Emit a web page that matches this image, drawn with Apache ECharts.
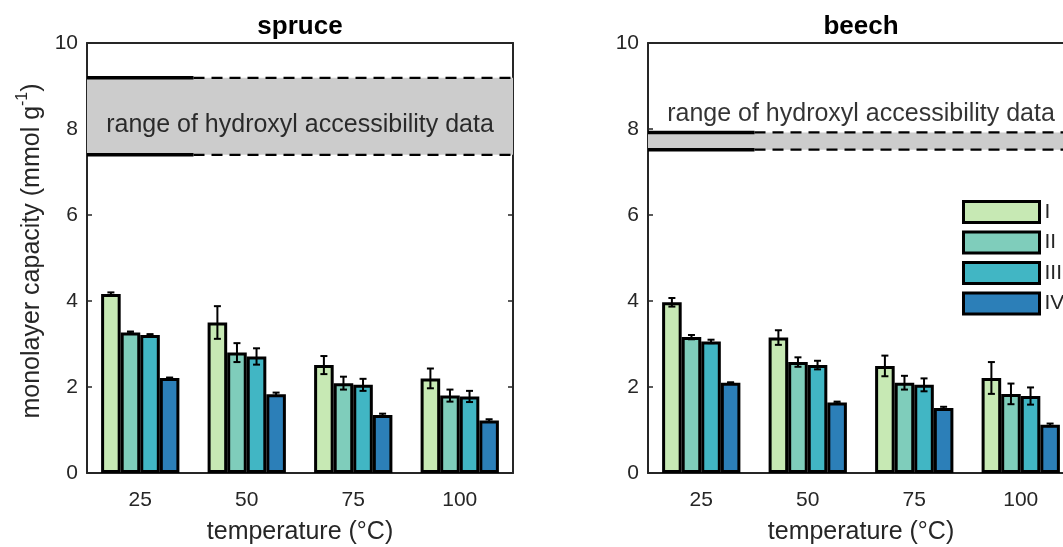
<!DOCTYPE html>
<html>
<head>
<meta charset="utf-8">
<title>Monolayer capacity – spruce and beech</title>
<script src="https://cdn.jsdelivr.net/npm/echarts@6/dist/echarts.min.js"></script>
<style>
  html, body { margin: 0; padding: 0; background: #fff; }
  #chart { width: 1063px; height: 547px; }
</style>
</head>
<body>
<div id="chart"></div>
<script>
// ---- data ----
const categories = ['25', '50', '75', '100'];
const fractions = ['I', 'II', 'III', 'IV'];
const yTicks = [0, 2, 4, 6, 8, 10];

const spruceI   = [4.16, 3.50, 2.51, 2.20];
const spruceII  = [3.27, 2.80, 2.09, 1.80];
const spruceIII = [3.21, 2.71, 2.05, 1.78];
const spruceIV  = [2.21, 1.83, 1.35, 1.22];
const spruceErrI   = [0.04, 0.38, 0.21, 0.23];
const spruceErrII  = [0.02, 0.22, 0.15, 0.14];
const spruceErrIII = [0.02, 0.19, 0.14, 0.13];
const spruceErrIV  = [0.01, 0.04, 0.03, 0.03];

const beechI   = [3.97, 3.15, 2.49, 2.21];
const beechII  = [3.16, 2.58, 2.10, 1.84];
const beechIII = [3.06, 2.51, 2.05, 1.79];
const beechIV  = [2.10, 1.64, 1.51, 1.12];
const beechErrI   = [0.10, 0.17, 0.24, 0.37];
const beechErrII  = [0.05, 0.11, 0.16, 0.24];
const beechErrIII = [0.04, 0.10, 0.15, 0.20];
const beechErrIV  = [0.01, 0.02, 0.03, 0.03];

// hydroxyl accessibility range [low, high] per wood species
const spruceRange = [7.40, 9.19];
const beechRange  = [7.52, 7.92];
const rangeText = 'range of hydroxyl accessibility data';

// ---- styling ----
const FONT = 'Liberation Sans';
const AXIS = '#262626';
const barColors = ['#c7e9b4', '#7fcdbb', '#41b6c4', '#2c7fb8'];
const CAT_GAP = 0.265;

const panels = [
  { title: 'spruce', means: [spruceI, spruceII, spruceIII, spruceIV],
    errs: [spruceErrI, spruceErrII, spruceErrIII, spruceErrIV], range: spruceRange,
    textY: 8.08, grid: { left: 87, top: 43, width: 426, height: 430 }, yName: true },
  { title: 'beech', means: [beechI, beechII, beechIII, beechIV],
    errs: [beechErrI, beechErrII, beechErrIII, beechErrIV], range: beechRange,
    textY: 8.34, grid: { left: 648, top: 43, width: 426, height: 430 }, yName: false }
];

function errorBarRenderer(params, api) {
  const cat = api.value(0), mean = api.value(1), err = api.value(2), k = api.value(3);
  const center = api.coord([cat, mean]);
  const band = api.size([1, 0])[0];
  const barW = band * (1 - CAT_GAP) / fractions.length;
  const x = center[0] + (k - (fractions.length - 1) / 2) * barW;
  const yTop = api.coord([cat, mean + err])[1];
  const yBot = api.coord([cat, mean - err])[1];
  const cap = 3.5;
  const st = { stroke: '#000', lineWidth: 2 };
  return {
    type: 'group',
    children: [
      { type: 'line', shape: { x1: x, y1: yTop, x2: x, y2: yBot }, style: st },
      { type: 'line', shape: { x1: x - cap, y1: yTop, x2: x + cap, y2: yTop }, style: st },
      { type: 'line', shape: { x1: x - cap, y1: yBot, x2: x + cap, y2: yBot }, style: st }
    ]
  };
}

const grid = [], xAxis = [], yAxis = [], series = [], title = [];

panels.forEach((p, pi) => {
  grid.push(Object.assign({ containLabel: false, outerBoundsMode: 'none' }, p.grid));
  const cx = p.grid.left + p.grid.width / 2;
  title.push({
    text: p.title, left: cx, top: 14, textAlign: 'center', padding: 0,
    textStyle: { fontFamily: FONT, fontSize: 26, fontWeight: 'bold', color: '#000' }
  });

  const xb = pi * 3, yl = pi * 2;
  // bottom category axis
  xAxis.push({
    type: 'category', gridIndex: pi, data: categories, position: 'bottom',
    boundaryGap: true,
    axisLine: { onZero: false, lineStyle: { color: AXIS, width: 2 } },
    axisTick: { inside: true, alignWithLabel: true, length: 5, lineStyle: { color: AXIS, width: 1.5 } },
    axisLabel: { margin: 17, fontFamily: FONT, fontSize: 21, color: AXIS },
    name: 'temperature (°C)', nameLocation: 'middle', nameGap: 47,
    nameTextStyle: { fontFamily: FONT, fontSize: 25, color: AXIS }
  });
  // top category axis (box frame)
  xAxis.push({
    type: 'category', gridIndex: pi, data: categories, position: 'top',
    boundaryGap: true,
    axisLine: { onZero: false, lineStyle: { color: AXIS, width: 2 } },
    axisTick: { inside: true, alignWithLabel: true, length: 5, lineStyle: { color: AXIS, width: 1.5 } },
    axisLabel: { show: false }
  });
  // hidden continuous axis spanning the four category bands
  xAxis.push({ type: 'value', gridIndex: pi, min: 0, max: categories.length, show: false });

  const yCommon = {
    type: 'value', gridIndex: pi, min: yTicks[0], max: yTicks[yTicks.length - 1],
    interval: yTicks[1] - yTicks[0],
    splitLine: { show: false },
    axisLine: { show: true, lineStyle: { color: AXIS, width: 2 } },
    axisTick: { show: true, inside: true, length: 5, lineStyle: { color: AXIS, width: 1.5 } }
  };
  yAxis.push(Object.assign({}, yCommon, {
    position: 'left',
    axisLabel: { margin: 9, fontFamily: FONT, fontSize: 21, color: AXIS },
    name: p.yName ? '{a|monolayer capacity (mmol g}{s|-1}{a|)}' : '',
    nameLocation: 'middle', nameGap: 42,
    nameTextStyle: {
      padding: [0, 0, 0, 14],
      rich: {
        a: { fontFamily: FONT, fontSize: 25, color: AXIS, lineHeight: 30, verticalAlign: 'bottom' },
        s: { fontFamily: FONT, fontSize: 16, color: AXIS, lineHeight: 30, verticalAlign: 'top' }
      }
    }
  }));
  yAxis.push(Object.assign({}, yCommon, { position: 'right', axisLabel: { show: false } }));

  // shaded range band
  const [lo, hi] = p.range;
  series.push({
    type: 'line', xAxisIndex: xb + 2, yAxisIndex: yl, z: 1, silent: true,
    symbol: 'none', data: [], lineStyle: { width: 0 },
    markArea: {
      silent: true,
      itemStyle: { color: '#cccccc' },
      data: [[{ coord: [0, lo] }, { coord: [categories.length, hi] }]]
    }
  });
  [hi, lo].forEach(v => {
    series.push({
      type: 'line', xAxisIndex: xb + 2, yAxisIndex: yl, z: 5, silent: true, symbol: 'none',
      data: [[0, v], [1, v]], lineStyle: { color: '#000', width: 3.5, type: 'solid' }
    });
    series.push({
      type: 'line', xAxisIndex: xb + 2, yAxisIndex: yl, z: 5, silent: true, symbol: 'none',
      data: [[1, v], [categories.length, v]],
      lineStyle: { color: '#000', width: 2.2, type: [11, 7] }
    });
  });
  // range caption
  series.push({
    type: 'scatter', xAxisIndex: xb + 2, yAxisIndex: yl, z: 6, silent: true,
    symbolSize: 1, itemStyle: { color: 'rgba(0,0,0,0)' },
    data: [[categories.length / 2, p.textY]],
    label: {
      show: true, position: 'inside', formatter: rangeText,
      fontFamily: FONT, fontSize: 25, color: '#000'
    }
  });

  // bars
  fractions.forEach((name, k) => {
    series.push({
      type: 'bar', name: name, xAxisIndex: xb, yAxisIndex: yl, z: 3,
      data: p.means[k],
      barGap: '0%', barCategoryGap: (CAT_GAP * 100) + '%',
      itemStyle: { color: barColors[k], borderColor: '#000', borderWidth: 3 }
    });
  });
  // error bars
  const errData = [];
  fractions.forEach((name, k) => {
    p.means[k].forEach((m, i) => errData.push([i, m, p.errs[k][i], k]));
  });
  series.push({
    type: 'custom', xAxisIndex: xb, yAxisIndex: yl, z: 10, silent: true,
    renderItem: errorBarRenderer,
    encode: { x: 0, y: 1 },
    data: errData
  });
});

const chart = echarts.init(document.getElementById('chart'), null, { renderer: 'canvas' });
chart.setOption({
  animation: false,
  backgroundColor: '#fff',
  title: title,
  grid: grid,
  xAxis: xAxis,
  yAxis: yAxis,
  legend: {
    data: fractions, orient: 'vertical', left: 962, top: 200,
    padding: 0, itemGap: 6.5, itemWidth: 76, itemHeight: 21, icon: 'rect',
    selectedMode: false,
    itemStyle: { borderColor: '#000', borderWidth: 3 },
    textStyle: { fontFamily: FONT, fontSize: 21, color: AXIS, lineHeight: 21 }
  },
  series: series
});
</script>
</body>
</html>
